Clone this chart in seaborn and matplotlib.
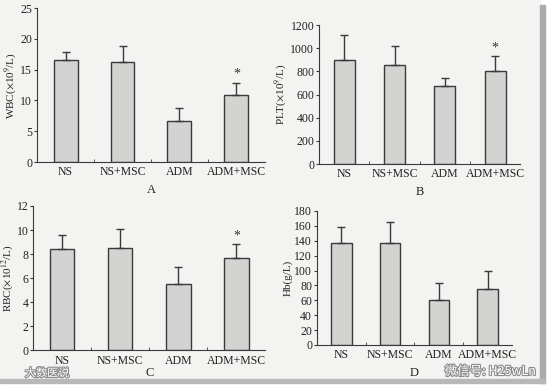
import numpy as np
import pandas as pd
import matplotlib
matplotlib.use('Agg')
import matplotlib.pyplot as plt
import matplotlib.patheffects as pe
import seaborn as sns

# Data
groups = ['NS', 'NS+MSC', 'ADM', 'ADM+MSC']

wbc = [16.5, 16.2, 6.7, 10.9]
wbc_err = [1.3, 2.7, 2.0, 2.0]

plt_vals = [900, 855, 675, 800]
plt_err = [210, 165, 65, 135]

rbc = [8.4, 8.5, 5.5, 7.7]
rbc_err = [1.2, 1.6, 1.4, 1.1]

hb = [137, 137, 61, 75]
hb_err = [22, 28, 22, 24]

sns.set_style('ticks')
plt.rcParams['font.family'] = ['Liberation Serif', 'Noto Sans CJK SC', 'DejaVu Sans']
plt.rcParams['mathtext.fontset'] = 'stix'

BG = '#f3f3f1'
BAR = '#d3d3d1'
EDGE = '#3a3a3a'

fig = plt.figure(figsize=(5.54, 3.85), dpi=100, facecolor='white')

# page area (scanned sheet) with shadow on right and bottom
fig.patches.append(plt.Rectangle((0.0, 0.016), 0.975, 0.984, transform=fig.transFigure,
                                 color=BG, zorder=-2))
fig.patches.append(plt.Rectangle((0.975, 0.005), 0.009, 0.982, transform=fig.transFigure,
                                 color='#ababab', zorder=-1))
fig.patches.append(plt.Rectangle((0.0, 0.005), 0.984, 0.011, transform=fig.transFigure,
                                 color='#b8b8b8', zorder=-1))

panels = [
    # rect, values, errors, ylim, ystep, ylabel, letter, star, labelpad
    ([0.067, 0.579, 0.411, 0.400], wbc, wbc_err, 25, 5, r'WBC($\times$10$^9$/L)', 'A', True, 4),
    ([0.576, 0.574, 0.363, 0.361], plt_vals, plt_err, 1200, 200, r'PLT($\times$10$^9$/L)', 'B', True, 4),
    ([0.060, 0.090, 0.419, 0.375], rbc, rbc_err, 12, 2, r'RBC($\times$10$^{12}$/L)', 'C', True, 0),
    ([0.572, 0.104, 0.352, 0.348], hb, hb_err, 180, 20, 'Hb(g/L)', 'D', False, 4),
]

for rect, vals, errs, ymax, ystep, ylabel, letter, star, lpad in panels:
    ax = fig.add_axes(rect)
    ax.set_facecolor(BG)
    df = pd.DataFrame({'group': groups, 'value': vals})
    sns.barplot(data=df, x='group', y='value', color=BAR, edgecolor=EDGE,
                linewidth=1.0, width=0.42, saturation=1, ax=ax)
    x = np.arange(len(groups))
    ax.errorbar(x, vals, yerr=[np.zeros(len(vals)), errs], fmt='none',
                ecolor=EDGE, elinewidth=1.0, capsize=3, capthick=1.0)
    if star:
        ax.text(x[-1], vals[-1] + errs[-1] + ymax * 0.012, '*', ha='center',
                va='bottom', fontsize=10, color='#333333')
    ax.set_xlim(-0.5, 3.5)
    ax.set_ylim(0, ymax)
    ax.set_yticks(np.arange(0, ymax + ystep, ystep))
    ax.set_xticks([0.5, 1.5, 2.5], minor=True)
    ax.tick_params(axis='x', which='major', length=0, pad=3, labelsize=8.5)
    ax.tick_params(axis='x', which='minor', length=2.5, direction='in', color=EDGE)
    ax.tick_params(axis='y', length=2.5, width=0.8, pad=1, labelsize=8.5, color=EDGE)
    ax.set_xlabel(letter, fontsize=9, labelpad=lpad, color='#222222')
    ax.set_ylabel(ylabel, fontsize=8, labelpad=1, color='#222222')
    for lab in ax.get_xticklabels() + ax.get_yticklabels():
        lab.set_color('#222222')
    sns.despine(ax=ax)
    ax.spines['left'].set_color(EDGE)
    ax.spines['bottom'].set_color(EDGE)

# watermarks from the source picture
halo = [pe.withStroke(linewidth=1.6, foreground='#8c8c8c')]
fig.text(0.045, 0.022, '大数医说', fontsize=8, color='white',
         family=['Noto Sans CJK SC', 'DejaVu Sans'], path_effects=halo)
fig.text(0.885, 0.026, '微信号: H25wLn', fontsize=9, color='white',
         family=['Noto Sans CJK SC', 'DejaVu Sans'], ha='center', path_effects=halo)

fig.savefig('out.png', dpi=100, facecolor='white')
